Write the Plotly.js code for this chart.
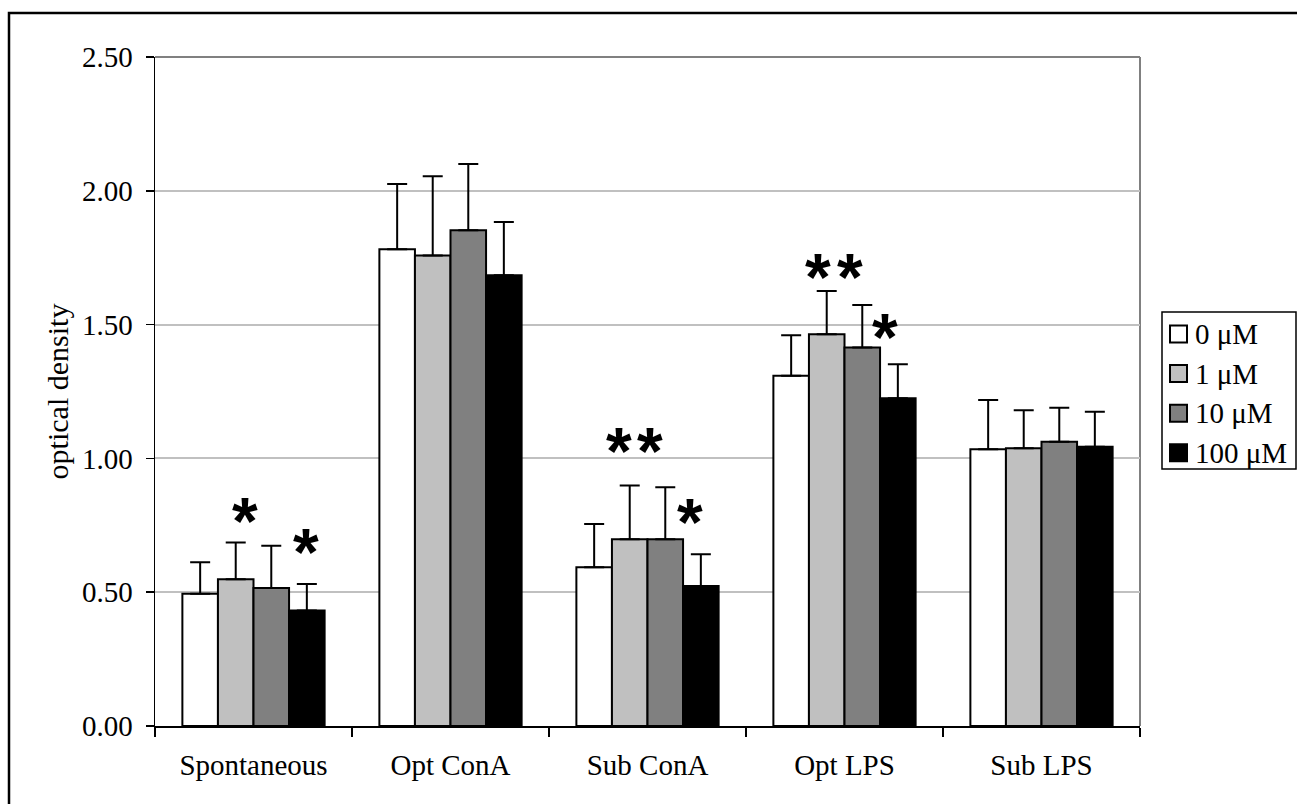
<!DOCTYPE html>
<html>
<head>
<meta charset="utf-8">
<script src="https://cdn.plot.ly/plotly-3.0.1.min.js"></script>
<style>
  html, body { margin: 0; padding: 0; background: #ffffff; }
  #chart { width: 1297px; height: 804px; }
</style>
</head>
<body>
<div id="chart"></div>
<script>
// Stimulation conditions on the x axis
const categories = ["Spontaneous", "Opt ConA", "Sub ConA", "Opt LPS", "Sub LPS"];

// Concentration groups (legend labels)
const seriesNames = ["0 \u03bcM", "1 \u03bcM", "10 \u03bcM", "100 \u03bcM"];

// Mean optical density per condition
const od0   = [0.494, 1.782, 0.593, 1.309, 1.034];
const od1   = [0.548, 1.758, 0.698, 1.464, 1.038];
const od10  = [0.516, 1.853, 0.698, 1.414, 1.062];
const od100 = [0.432, 1.684, 0.523, 1.225, 1.044];

// Upper error (SD) per condition
const err0   = [0.118, 0.243, 0.162, 0.151, 0.184];
const err1   = [0.138, 0.296, 0.201, 0.162, 0.142];
const err10  = [0.158, 0.247, 0.194, 0.159, 0.127];
const err100 = [0.099, 0.199, 0.119, 0.127, 0.130];

// Significance markers: condition and height (optical density units)
const starCategory = ["Spontaneous", "Spontaneous", "Sub ConA", "Sub ConA", "Sub ConA", "Opt LPS", "Opt LPS", "Opt LPS"];
const starLevel    = [0.800, 0.685, 1.062, 1.062, 0.795, 1.713, 1.713, 1.488];

// Horizontal nudges (px) for the markers, in the same order
const starNudge = [-9, 52, -29, 2, 42, -27, 5, 40];

const values = [od0, od1, od10, od100];
const errors = [err0, err1, err10, err100];
const fills = ["#ffffff", "#c0c0c0", "#808080", "#000000"];

const serif = "Liberation Serif, Times New Roman, serif";

const traces = values.map((v, i) => ({
  type: "bar",
  name: seriesNames[i],
  x: categories,
  y: v,
  marker: { color: fills[i], line: { color: "#000000", width: 2 } },
  error_y: {
    type: "data",
    symmetric: false,
    array: errors[i],
    arrayminus: v.map(() => 0),
    color: "#000000",
    thickness: 2,
    width: 10
  },
  hoverinfo: "skip",
  showlegend: false
}));

// Plot area in pixels, used to place the frame and the legend box
const W = 1297, H = 804;
const L = 155, R = 1140, T = 57, B = 726;
const px = x => (x - L) / (R - L);
const py = y => (B - y) / (B - T);

const shapes = [
  // outer frame around the whole figure
  { type: "rect", xref: "paper", yref: "paper",
    x0: px(9), x1: px(1320), y0: py(830), y1: py(13),
    line: { color: "#000000", width: 2.5 }, fillcolor: "rgba(0,0,0,0)", layer: "above" },
  // grey plot-area border (top and right)
  { type: "line", xref: "paper", yref: "paper", x0: 0, x1: 1, y0: 1, y1: 1,
    line: { color: "#808080", width: 2 }, layer: "below" },
  { type: "line", xref: "paper", yref: "paper", x0: 1, x1: 1, y0: 0, y1: 1,
    line: { color: "#808080", width: 2 }, layer: "below" },
  // legend box
  { type: "rect", xref: "paper", yref: "paper",
    x0: px(1162), x1: px(1296), y0: py(469), y1: py(312),
    line: { color: "#000000", width: 1.5 }, fillcolor: "#ffffff", layer: "above" }
];

const annotations = starCategory.map((c, i) => ({
  x: c, y: starLevel[i], xref: "x", yref: "y",
  text: "<b>*</b>", showarrow: false,
  xshift: starNudge[i], yshift: -9,
  font: { family: "Liberation Sans, Arial, sans-serif", size: 66, color: "#000000" },
  xanchor: "center", yanchor: "middle"
}));

// Legend entries: swatch plus label, one row per concentration
const rowY0 = 334, rowStep = 39.6, sw = 17;
seriesNames.forEach((name, i) => {
  const cy = rowY0 + i * rowStep;
  shapes.push({
    type: "rect", xref: "paper", yref: "paper",
    x0: px(1170), x1: px(1170 + sw), y0: py(cy + sw / 2), y1: py(cy - sw / 2),
    line: { color: "#000000", width: 2 }, fillcolor: fills[i], layer: "above"
  });
  annotations.push({
    xref: "paper", yref: "paper", x: px(1193), y: py(cy),
    xanchor: "left", yanchor: "middle", showarrow: false,
    text: name,
    font: { family: serif, size: 29, color: "#000000" }
  });
});

const layout = {
  width: W, height: H,
  margin: { l: L, r: W - R, t: T, b: H - B, pad: 0, autoexpand: false },
  paper_bgcolor: "#ffffff",
  plot_bgcolor: "#ffffff",
  barmode: "group",
  bargap: 0.278,
  bargroupgap: 0,
  showlegend: false,
  xaxis: {
    type: "category",
    tickson: "boundaries",
    ticks: "outside", ticklen: 9, tickwidth: 1.5, tickcolor: "#000000",
    showline: true, linecolor: "#000000", linewidth: 1.5,
    showgrid: false, zeroline: false,
    tickfont: { family: serif, size: 29, color: "#000000" },
    ticklabelstandoff: 13
  },
  yaxis: {
    range: [0, 2.5], dtick: 0.5, tick0: 0, tickformat: ".2f",
    ticks: "outside", ticklen: 8, tickwidth: 1.5, tickcolor: "#000000",
    showline: true, linecolor: "#000000", linewidth: 1.5,
    showgrid: true, gridcolor: "#c0c0c0", gridwidth: 2,
    zeroline: false,
    tickfont: { family: serif, size: 29, color: "#000000" },
    ticklabelstandoff: 7,
    title: { text: "optical density", standoff: 4,
             font: { family: serif, size: 30, color: "#000000" } }
  },
  shapes: shapes,
  annotations: annotations
};

Plotly.newPlot("chart", traces, layout, { displayModeBar: false, staticPlot: true });
</script>
</body>
</html>
